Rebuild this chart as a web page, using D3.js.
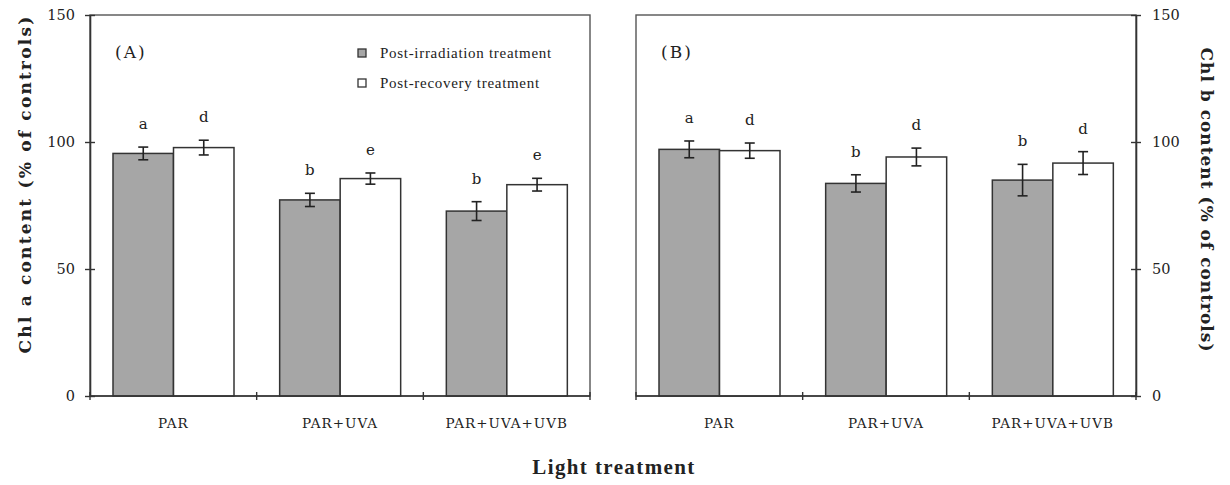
<!DOCTYPE html>
<html>
<head>
<meta charset="utf-8">
<script src="https://cdn.jsdelivr.net/npm/d3@7"></script>
<style>
  html, body { margin: 0; padding: 0; background: #fff; }
  svg { display: block; font-family: "DejaVu Serif", "Liberation Serif", serif; }
</style>
</head>
<body>
<svg id="chart" width="1230" height="485"></svg>
<script>
// Light treatments on the x axis
const categories = ["PAR", "PAR+UVA", "PAR+UVA+UVB"];
const seriesNames = ["Post-irradiation treatment", "Post-recovery treatment"];
const yTicks = [0, 50, 100, 150];

// Chl a content (% of controls)
const chlAIrradiation = [95.5, 77.2, 72.8];
const chlAIrradiationErr = [2.5, 2.6, 3.7];
const chlARecovery = [97.8, 85.6, 83.2];
const chlARecoveryErr = [2.9, 2.2, 2.5];
const chlAIrradiationLetters = ["a", "b", "b"];
const chlARecoveryLetters = ["d", "e", "e"];

// Chl b content (% of controls)
const chlBIrradiation = [97.1, 83.7, 85.0];
const chlBIrradiationErr = [3.3, 3.4, 6.2];
const chlBRecovery = [96.6, 94.1, 91.7];
const chlBRecoveryErr = [3.0, 3.5, 4.5];
const chlBIrradiationLetters = ["a", "b", "b"];
const chlBRecoveryLetters = ["d", "d", "d"];

const svg = d3.select("#chart");
const plotTop = 15, plotBottom = 396, panelW = 500;
const fills = ["#a6a6a6", "#ffffff"];
const stroke = "#333";
const serif = "DejaVu Serif, Liberation Serif, serif";
const times = "Liberation Serif, DejaVu Serif, serif";

const y = d3.scaleLinear().domain([0, 150]).range([plotBottom, plotTop]);

function buildRows(irr, irrErr, irrL, rec, recErr, recL) {
  return categories.map((c, i) => ({
    cat: c,
    items: [
      { s: seriesNames[0], v: irr[i], e: irrErr[i], l: irrL[i] },
      { s: seriesNames[1], v: rec[i], e: recErr[i], l: recL[i] }
    ]
  }));
}

function drawPanel(left, rows, axisSide, tag) {
  const g = svg.append("g").attr("transform", `translate(${left},0)`);
  const x0 = d3.scaleBand().domain(categories).range([0, panelW]).padding(0);
  const x1 = d3.scaleBand().domain(seriesNames).range([23, 144]).padding(0);

  // frame
  g.append("rect").attr("x", 0).attr("y", plotTop).attr("width", panelW).attr("height", plotBottom - plotTop)
    .attr("fill", "none").attr("stroke", "#555").attr("stroke-width", 1.4);

  // bars
  const grp = g.selectAll(".grp").data(rows).enter().append("g")
    .attr("transform", d => `translate(${x0(d.cat)},0)`);
  grp.selectAll("rect").data(d => d.items).enter().append("rect")
    .attr("x", d => x1(d.s)).attr("width", x1.bandwidth())
    .attr("y", d => y(d.v)).attr("height", d => y(0) - y(d.v))
    .attr("fill", (d, i) => fills[i]).attr("stroke", stroke).attr("stroke-width", 1.5);

  // error bars
  const eb = grp.selectAll(".eb").data(d => d.items).enter().append("g");
  const cx = d => x1(d.s) + x1.bandwidth() / 2;
  eb.append("line").attr("x1", cx).attr("x2", cx)
    .attr("y1", d => y(d.v - d.e)).attr("y2", d => y(d.v + d.e));
  eb.append("line").attr("x1", d => cx(d) - 5).attr("x2", d => cx(d) + 5)
    .attr("y1", d => y(d.v + d.e)).attr("y2", d => y(d.v + d.e));
  eb.append("line").attr("x1", d => cx(d) - 5).attr("x2", d => cx(d) + 5)
    .attr("y1", d => y(d.v - d.e)).attr("y2", d => y(d.v - d.e));
  eb.selectAll("line").attr("stroke", "#222").attr("stroke-width", 1.6);

  // significance letters
  grp.selectAll(".lt").data(d => d.items).enter().append("text")
    .attr("x", cx).attr("y", d => y(d.v + d.e) - 18)
    .attr("text-anchor", "middle").attr("font-family", serif).attr("font-size", 15).attr("fill", "#222")
    .text(d => d.l);

  // x axis with crossing ticks at category boundaries
  g.append("line").attr("x1", 0).attr("x2", panelW).attr("y1", plotBottom).attr("y2", plotBottom)
    .attr("stroke", "#333").attr("stroke-width", 1.6);
  const bounds = [0, ...categories.slice(1).map(c => x0(c)), panelW];
  g.selectAll(".xt").data(bounds).enter().append("line")
    .attr("x1", d => d).attr("x2", d => d).attr("y1", plotBottom - 4).attr("y2", plotBottom + 4)
    .attr("stroke", "#333").attr("stroke-width", 1.4);
  g.selectAll(".xl").data(categories).enter().append("text")
    .attr("x", d => x0(d) + x0.bandwidth() / 2).attr("y", 428)
    .attr("text-anchor", "middle").attr("font-family", serif).attr("font-size", 13.5)
    .attr("letter-spacing", 1.0).attr("fill", "#222").text(d => d);

  // y axis
  const ax = axisSide === "left" ? 0 : panelW;
  const axis = (axisSide === "left" ? d3.axisLeft(y) : d3.axisRight(y))
    .tickValues(yTicks).tickSize(0).tickPadding(0);
  const ag = g.append("g").attr("transform", `translate(${ax},0)`).call(axis);
  ag.select(".domain").attr("stroke", "#333").attr("stroke-width", 1.6);
  ag.selectAll(".tick text").attr("font-size", 14.5).attr("fill", "#222")
    .attr("font-family", serif)
    .attr("x", axisSide === "left" ? -15 : 16)
    .attr("text-anchor", axisSide === "left" ? "end" : "start");
  ag.selectAll(".tick").append("line").attr("x1", -5).attr("x2", 5)
    .attr("stroke", "#333").attr("stroke-width", 1.4);

  // panel tag
  g.append("text").attr("x", 25).attr("y", 58).attr("font-family", serif).attr("font-size", 17)
    .attr("letter-spacing", 2).attr("fill", "#222").text(tag);
  return g;
}

const gA = drawPanel(90, buildRows(chlAIrradiation, chlAIrradiationErr, chlAIrradiationLetters,
  chlARecovery, chlARecoveryErr, chlARecoveryLetters), "left", "(A)");
drawPanel(636, buildRows(chlBIrradiation, chlBIrradiationErr, chlBIrradiationLetters,
  chlBRecovery, chlBRecoveryErr, chlBRecoveryLetters), "right", "(B)");

// legend
const legend = gA.append("g").attr("transform", "translate(272,0)");
seriesNames.forEach((s, i) => {
  const ly = 53 + i * 30;
  legend.append("rect").attr("x", -4).attr("y", ly - 4).attr("width", 8).attr("height", 8)
    .attr("fill", fills[i]).attr("stroke", "#333").attr("stroke-width", 1.3);
  legend.append("text").attr("x", 18).attr("y", ly + 5).attr("font-family", times).attr("font-size", 15)
    .attr("letter-spacing", 0.7).attr("fill", "#222").text(s);
});

// axis titles
svg.append("text").attr("transform", "translate(25,184) rotate(-90)")
  .attr("text-anchor", "middle").attr("dominant-baseline", "central")
  .attr("font-family", serif).attr("font-size", 17).attr("font-weight", "bold")
  .attr("letter-spacing", 2.2).attr("fill", "#222").text("Chl a content (% of controls)");
svg.append("text").attr("transform", "translate(1207,200) rotate(90)")
  .attr("text-anchor", "middle").attr("dominant-baseline", "central")
  .attr("font-family", serif).attr("font-size", 17).attr("font-weight", "bold")
  .attr("letter-spacing", 1.0).attr("fill", "#222").text("Chl b content (% of controls)");
svg.append("text").attr("x", 614).attr("y", 474)
  .attr("text-anchor", "middle").attr("font-family", times).attr("font-size", 21).attr("font-weight", "bold")
  .attr("letter-spacing", 1.4).attr("fill", "#222").text("Light treatment");
</script>
</body>
</html>
